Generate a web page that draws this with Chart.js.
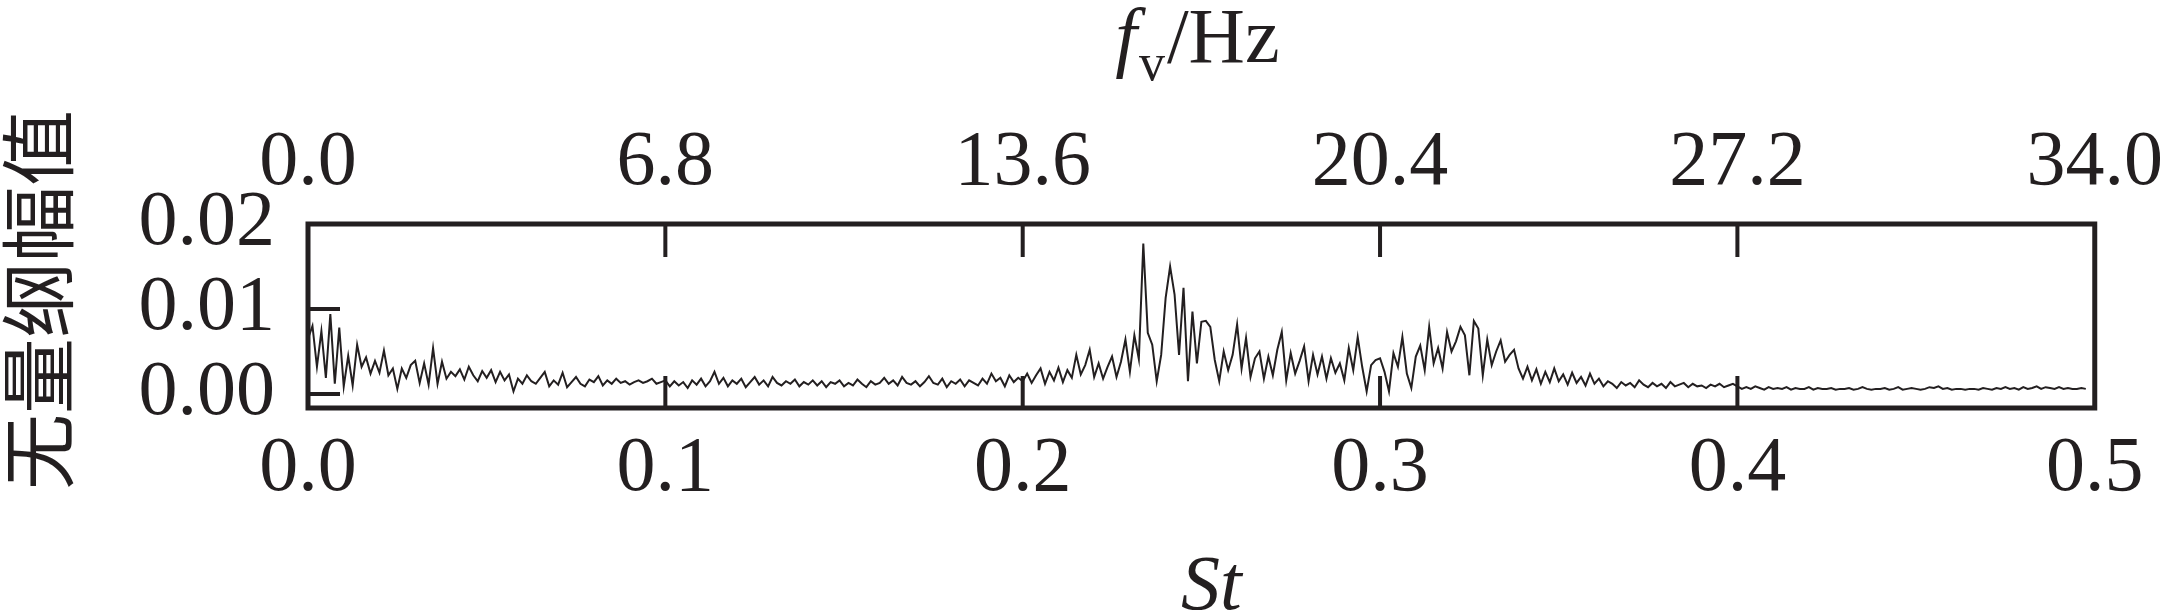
<!DOCTYPE html>
<html>
<head>
<meta charset="utf-8">
<script src="https://cdn.jsdelivr.net/npm/chart.js@4.4.0/dist/chart.umd.min.js"></script>
<style>
  html, body { margin: 0; padding: 0; background: #fff; }
  #wrap { width: 2177px; height: 613px; }
</style>
</head>
<body>
<div id="wrap"><canvas id="grafico" width="2177" height="613"></canvas></div>
<script>
// ampiezze, in unita di 0.001, passo St = 0.00125
var stStep = 0.00125;

// St 0.0 - 0.1
var ampSeg1 = [
  6.5, 8.0, 3.2, 7.4, 1.9, 9.4, 1.2, 7.8, 0.9, 4.5,
  1.0, 5.8, 3.2, 4.3, 2.4, 3.9, 2.5, 5.1, 2.2, 3.0,
  0.6, 3.0, 1.9, 3.4, 3.9, 1.3, 3.6, 1.1, 5.4, 1.2,
  3.8, 1.8, 2.6, 2.1, 2.9, 1.7, 3.2, 2.2, 1.5, 2.7,
  1.9, 2.8, 1.4, 2.6, 1.6, 2.3, 0.3, 1.8, 1.2, 2.2,
  1.5, 1.2, 1.9, 2.6, 0.9, 1.6, 1.1, 2.5, 0.8, 1.4,
  2.0, 1.2, 0.9, 1.7, 1.4, 2.1, 1.0, 1.6, 1.2, 1.8,
  1.3, 1.5, 1.1, 1.4, 1.6, 1.3, 1.5, 1.8, 1.2, 1.4
];
// St 0.1 - 0.2
var ampSeg2 = [
  1.6, 0.9, 1.5, 1.0, 1.4, 0.7, 1.6, 1.1, 1.8, 0.9,
  1.5, 2.6, 1.2, 1.9, 0.9, 1.6, 1.2, 1.8, 0.8, 1.4,
  2.0, 1.1, 1.6, 0.9, 2.0, 1.3, 1.0, 1.5, 1.2, 1.7,
  0.9, 1.4, 1.1, 1.6, 1.0, 1.5, 0.8, 1.4, 1.2, 1.6,
  0.9, 1.3, 1.0, 1.7, 1.2, 0.8, 1.5, 1.1, 1.3, 1.9,
  1.2, 1.6, 1.0, 2.0, 1.3, 1.1, 1.5, 0.9, 1.4, 2.1,
  1.3, 1.1, 1.8, 0.8, 1.5, 1.2, 1.7, 0.9, 1.6, 1.3,
  1.0, 1.8, 1.2, 2.4, 1.5, 1.9, 0.9, 2.2, 1.4, 1.9
];
// St 0.2 - 0.3
var ampSeg3 = [
  1.5, 2.4, 1.3, 2.2, 3.0, 1.2, 2.6, 1.6, 3.1, 1.4,
  2.8, 1.9, 4.6, 2.3, 3.4, 5.2, 2.0, 3.6, 1.8, 3.2,
  4.4, 2.0, 3.8, 6.4, 2.6, 6.9, 4.1, 17.7, 7.2, 5.8,
  1.5, 4.6, 11.3, 15.0, 11.7, 4.6, 12.5, 1.5, 9.7, 3.6,
  8.5, 8.6, 7.9, 4.0, 1.5, 5.0, 2.8, 4.6, 8.2, 3.0,
  6.6, 2.0, 4.2, 5.0, 1.8, 4.4, 2.2, 5.2, 7.3, 1.6,
  4.8, 2.4, 3.9, 5.6, 1.5, 4.6, 2.3, 4.4, 1.8, 4.2,
  2.5, 3.6, 1.6, 5.4, 2.8, 6.7, 3.2, 0.3, 3.4, 4.0
];
// St 0.3 - 0.4
var ampSeg4 = [
  4.2, 2.6, 0.3, 4.8, 3.2, 6.7, 2.4, 0.7, 4.4, 5.7,
  2.8, 7.9, 3.6, 5.4, 3.0, 7.3, 5.0, 6.2, 7.9, 6.9,
  2.2, 8.6, 7.7, 2.2, 6.4, 3.4, 5.0, 6.3, 3.8, 4.6,
  5.2, 3.0, 1.8, 3.2, 1.6, 2.9, 1.2, 2.6, 1.4, 3.0,
  1.5, 2.3, 1.1, 2.5, 1.3, 2.0, 1.0, 2.4, 1.2, 1.8,
  0.9, 1.5, 1.2, 0.7, 1.4, 1.0, 1.3, 0.8, 1.6, 1.1,
  0.8, 1.3, 0.9, 1.2, 0.7, 1.4, 0.9, 1.1, 1.3, 0.8,
  1.2, 0.9, 1.0, 0.7, 1.1, 0.9, 1.2, 0.8, 1.0, 1.2
];
// St 0.4 - 0.5
var ampSeg5 = [
  0.9, 0.6, 0.8, 0.6, 0.9, 0.7, 0.5, 0.8, 0.6, 0.7,
  0.6, 0.8, 0.5, 0.7, 0.6, 0.6, 0.8, 0.5, 0.7, 0.6,
  0.6, 0.7, 0.5, 0.6, 0.6, 0.7, 0.5, 0.6, 0.8, 0.6,
  0.5, 0.6, 0.6, 0.7, 0.5, 0.6, 0.8, 0.5, 0.6, 0.7,
  0.6, 0.5, 0.6, 0.8, 0.7, 0.9, 0.6, 0.7, 0.5, 0.6,
  0.6, 0.5, 0.6, 0.6, 0.5, 0.7, 0.6, 0.5, 0.7, 0.6,
  0.8, 0.6, 0.7, 0.5, 0.8, 0.6, 0.7, 0.9, 0.6, 0.8,
  0.7, 0.6, 0.8, 0.6, 0.7, 0.6, 0.6, 0.7, 0.6
];

var stTicks = [0.0, 0.1, 0.2, 0.3, 0.4, 0.5];
var fvTicks = [0.0, 6.8, 13.6, 20.4, 27.2, 34.0];
var yTicks = [0.00, 0.01, 0.02];

var nero = '#231f20';
var serif = "'Liberation Serif', 'Times New Roman', serif";

var ampTot = ampSeg1.concat(ampSeg2, ampSeg3, ampSeg4, ampSeg5);
var punti = [];
for (var i = 0; i < ampTot.length; i++) {
    punti.push({ x: i * stStep, y: ampTot[i] / 1000 });
}

function fissaTicks(lista) {
    return function (scale) {
        scale.ticks = lista.map(function (v) { return { value: v }; });
    };
}

// cornice, tacche interne e titoli
var cornice = {
    id: 'cornice',
    afterDraw: function (chart) {
        var ctx = chart.ctx;
        var a = chart.chartArea;
        var sx = chart.scales.x, sx2 = chart.scales.x2, sy = chart.scales.y;
        ctx.save();
        ctx.strokeStyle = nero;
        ctx.lineWidth = 5;
        ctx.strokeRect(a.left, a.top, a.right - a.left, a.bottom - a.top);

        ctx.lineWidth = 4;
        ctx.beginPath();
        stTicks.forEach(function (v) {
            if (v <= sx.min || v >= sx.max) return;
            var px = sx.getPixelForValue(v);
            ctx.moveTo(px, a.bottom);
            ctx.lineTo(px, a.bottom - 32);
        });
        fvTicks.forEach(function (v) {
            if (v <= sx2.min || v >= sx2.max) return;
            var px = sx2.getPixelForValue(v);
            ctx.moveTo(px, a.top);
            ctx.lineTo(px, a.top + 33);
        });
        yTicks.forEach(function (v) {
            if (v <= sy.min || v >= sy.max) return;
            var py = sy.getPixelForValue(v);
            ctx.moveTo(a.left, py);
            ctx.lineTo(a.left + 32, py);
        });
        ctx.stroke();

        ctx.fillStyle = nero;
        ctx.textBaseline = 'alphabetic';

        // titolo in alto: f_v/Hz
        ctx.font = 'italic 78px ' + serif;
        var wf = ctx.measureText('f').width;
        ctx.font = '52px ' + serif;
        var wv = ctx.measureText('v').width;
        ctx.font = '78px ' + serif;
        var wh = ctx.measureText('/Hz').width;
        var cx = (a.left + a.right) / 2 - 4;
        var x0 = cx - (wf + wv + wh + 4) / 2;
        ctx.textAlign = 'left';
        ctx.font = 'italic 78px ' + serif;
        ctx.fillText('f', x0, 62);
        ctx.font = '52px ' + serif;
        ctx.fillText('v', x0 + wf + 2, 80);
        ctx.font = '78px ' + serif;
        ctx.fillText('/Hz', x0 + wf + wv + 4, 62);

        // titolo in basso
        ctx.textAlign = 'center';
        ctx.font = 'italic 78px ' + serif;
        ctx.fillText('St', cx + 14, 609);

        // titolo asse y
        ctx.translate(38, 300);
        ctx.rotate(-Math.PI / 2);
        ctx.textBaseline = 'middle';
        ctx.font = "76px 'Noto Sans CJK SC', sans-serif";
        ctx.fillText('无量纲幅值', 0, 0);
        ctx.restore();
    }
};

var ctx = document.getElementById('grafico');
var chart = new Chart(ctx, {
    type: 'line',
    data: {
        datasets: [{
            data: punti,
            borderColor: nero,
            borderWidth: 2,
            pointRadius: 0,
            tension: 0,
            fill: false
        }]
    },
    options: {
        responsive: false,
        animation: false,
        devicePixelRatio: 1,
        layout: { padding: { left: 0, right: 74, top: 0, bottom: 0 } },
        plugins: {
            legend: { display: false },
            tooltip: { enabled: false }
        },
        scales: {
            x: {
                type: 'linear',
                position: 'bottom',
                min: 0,
                max: 0.5,
                afterBuildTicks: fissaTicks(stTicks),
                afterFit: function (s) { s.height = 205; },
                grid: { display: false, drawTicks: false },
                border: { display: false },
                ticks: {
                    padding: 15,
                    maxRotation: 0,
                    autoSkip: false,
                    color: nero,
                    font: { family: serif, size: 78 },
                    callback: function (v) { return Number(v).toFixed(1); }
                }
            },
            x2: {
                type: 'linear',
                position: 'top',
                min: 0,
                max: 34,
                afterBuildTicks: fissaTicks(fvTicks),
                afterFit: function (s) { s.height = 224; },
                grid: { display: false, drawTicks: false },
                border: { display: false },
                ticks: {
                    padding: 14,
                    maxRotation: 0,
                    autoSkip: false,
                    color: nero,
                    font: { family: serif, size: 78 },
                    callback: function (v) { return Number(v).toFixed(1); }
                }
            },
            y: {
                type: 'linear',
                position: 'left',
                min: -0.00165,
                max: 0.02,
                afterBuildTicks: fissaTicks(yTicks),
                afterFit: function (s) { s.width = 308; },
                grid: { display: false, drawTicks: false },
                border: { display: false },
                ticks: {
                    padding: 33,
                    autoSkip: false,
                    color: nero,
                    font: { family: serif, size: 78 },
                    callback: function (v) { return Number(v).toFixed(2); }
                }
            }
        }
    },
    plugins: [cornice]
});
</script>
</body>
</html>
